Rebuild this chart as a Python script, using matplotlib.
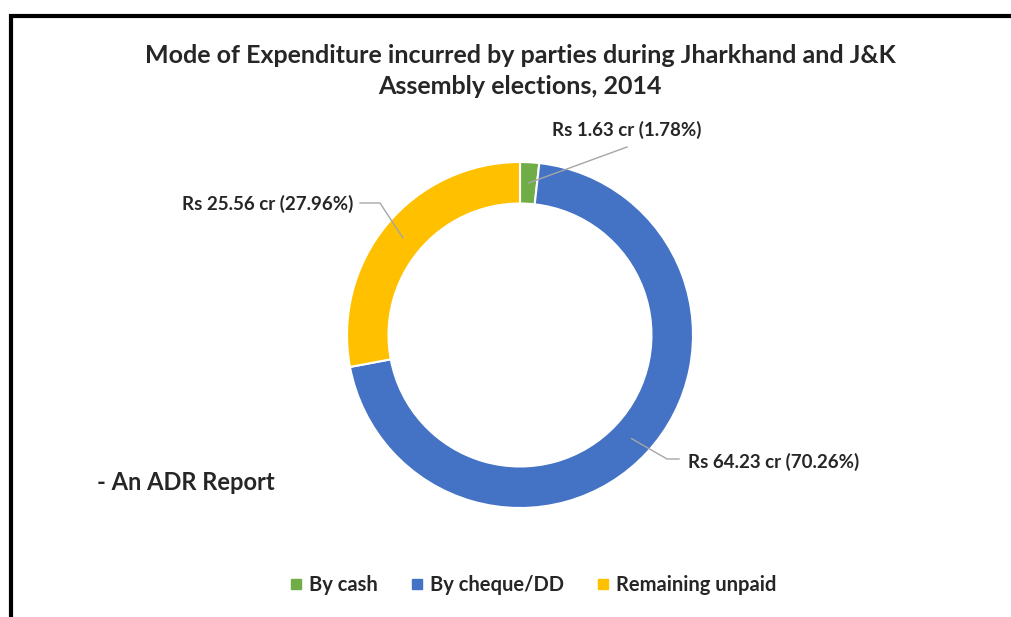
import matplotlib
matplotlib.use("Agg")
import matplotlib.pyplot as plt
import numpy as np
from matplotlib.lines import Line2D
from matplotlib.patches import Rectangle

labels = ['By cash', 'By cheque/DD', 'Remaining unpaid']
amounts = [1.63, 64.23, 25.56]
percents = [1.78, 70.26, 27.96]
colors = ['#70AD47', '#4472C4', '#FFC000']

plt.rcParams['font.family'] = ['Lato', 'DejaVu Sans']

W, H = 1011, 617
cx, cy, R = 520, 335, 173

fig = plt.figure(figsize=(W / 100, H / 100), dpi=100)
ax = fig.add_axes([0, 0, 1, 1])

# frame around the chart, runs off the bottom and right
fig.patches.append(Rectangle((11 / W, -0.1), 1.2, 1 - 16 / H + 0.1, transform=fig.transFigure,
                             fill=False, edgecolor='black', linewidth=3))

ring = 0.24
wedges, _ = ax.pie(amounts, colors=colors, startangle=90, counterclock=False, radius=1,
                   wedgeprops=dict(width=ring, edgecolor='white', linewidth=1.5))

# pie() resets the limits, so set them afterwards
ax.set_xlim(-cx / R, (W - cx) / R)
ax.set_ylim(-(H - cy) / R, cy / R)
ax.set_aspect('equal')
ax.axis('off')

def px(x, y):
    return ((x - cx) / R, (cy - y) / R)

# label text positions (pixels) and leader line bends
label_pos = [(627, 130), (774, 462), (268, 204)]
bends = [None, (667, 459), (380, 203)]
ends = [(627, 147), (679, 459), (360, 203)]

for i, w in enumerate(wedges):
    ang = np.deg2rad((w.theta1 + w.theta2) / 2)
    r_in = 1 - ring / 2
    pts = [(r_in * np.cos(ang), r_in * np.sin(ang))]
    if bends[i] is not None:
        pts.append(px(*bends[i]))
    pts.append(px(*ends[i]))
    xs, ys = zip(*pts)
    ax.plot(xs, ys, color='#A6A6A6', linewidth=1)
    txt = 'Rs %.2f cr (%.2f%%)' % (amounts[i], percents[i])
    tx, ty = px(*label_pos[i])
    ax.text(tx, ty, txt, ha='center', va='center', fontsize=13.5, fontweight='bold', color='#262626')

fig.text(520 / W, 1 - 71 / H, 'Mode of Expenditure incurred by parties during Jharkhand and J&K\nAssembly elections, 2014',
         ha='center', va='center', fontsize=18, fontweight='bold', color='#262626', linespacing=1.4)

fig.text(97 / W, 1 - 482 / H, '- An ADR Report', ha='left', va='center', fontsize=17,
         fontweight='bold', color='#262626')

handles = [Line2D([], [], marker='s', linestyle='none', color=c, markersize=7) for c in colors]
fig.legend(handles, labels, loc='center', bbox_to_anchor=(533 / W, 1 - 585 / H), ncol=3, frameon=False,
           handlelength=0.6, handletextpad=0.35, columnspacing=1.65,
           prop=dict(size=14.5, weight='bold'), labelcolor='#262626')

fig.savefig('out.png', dpi=100, facecolor='white')
